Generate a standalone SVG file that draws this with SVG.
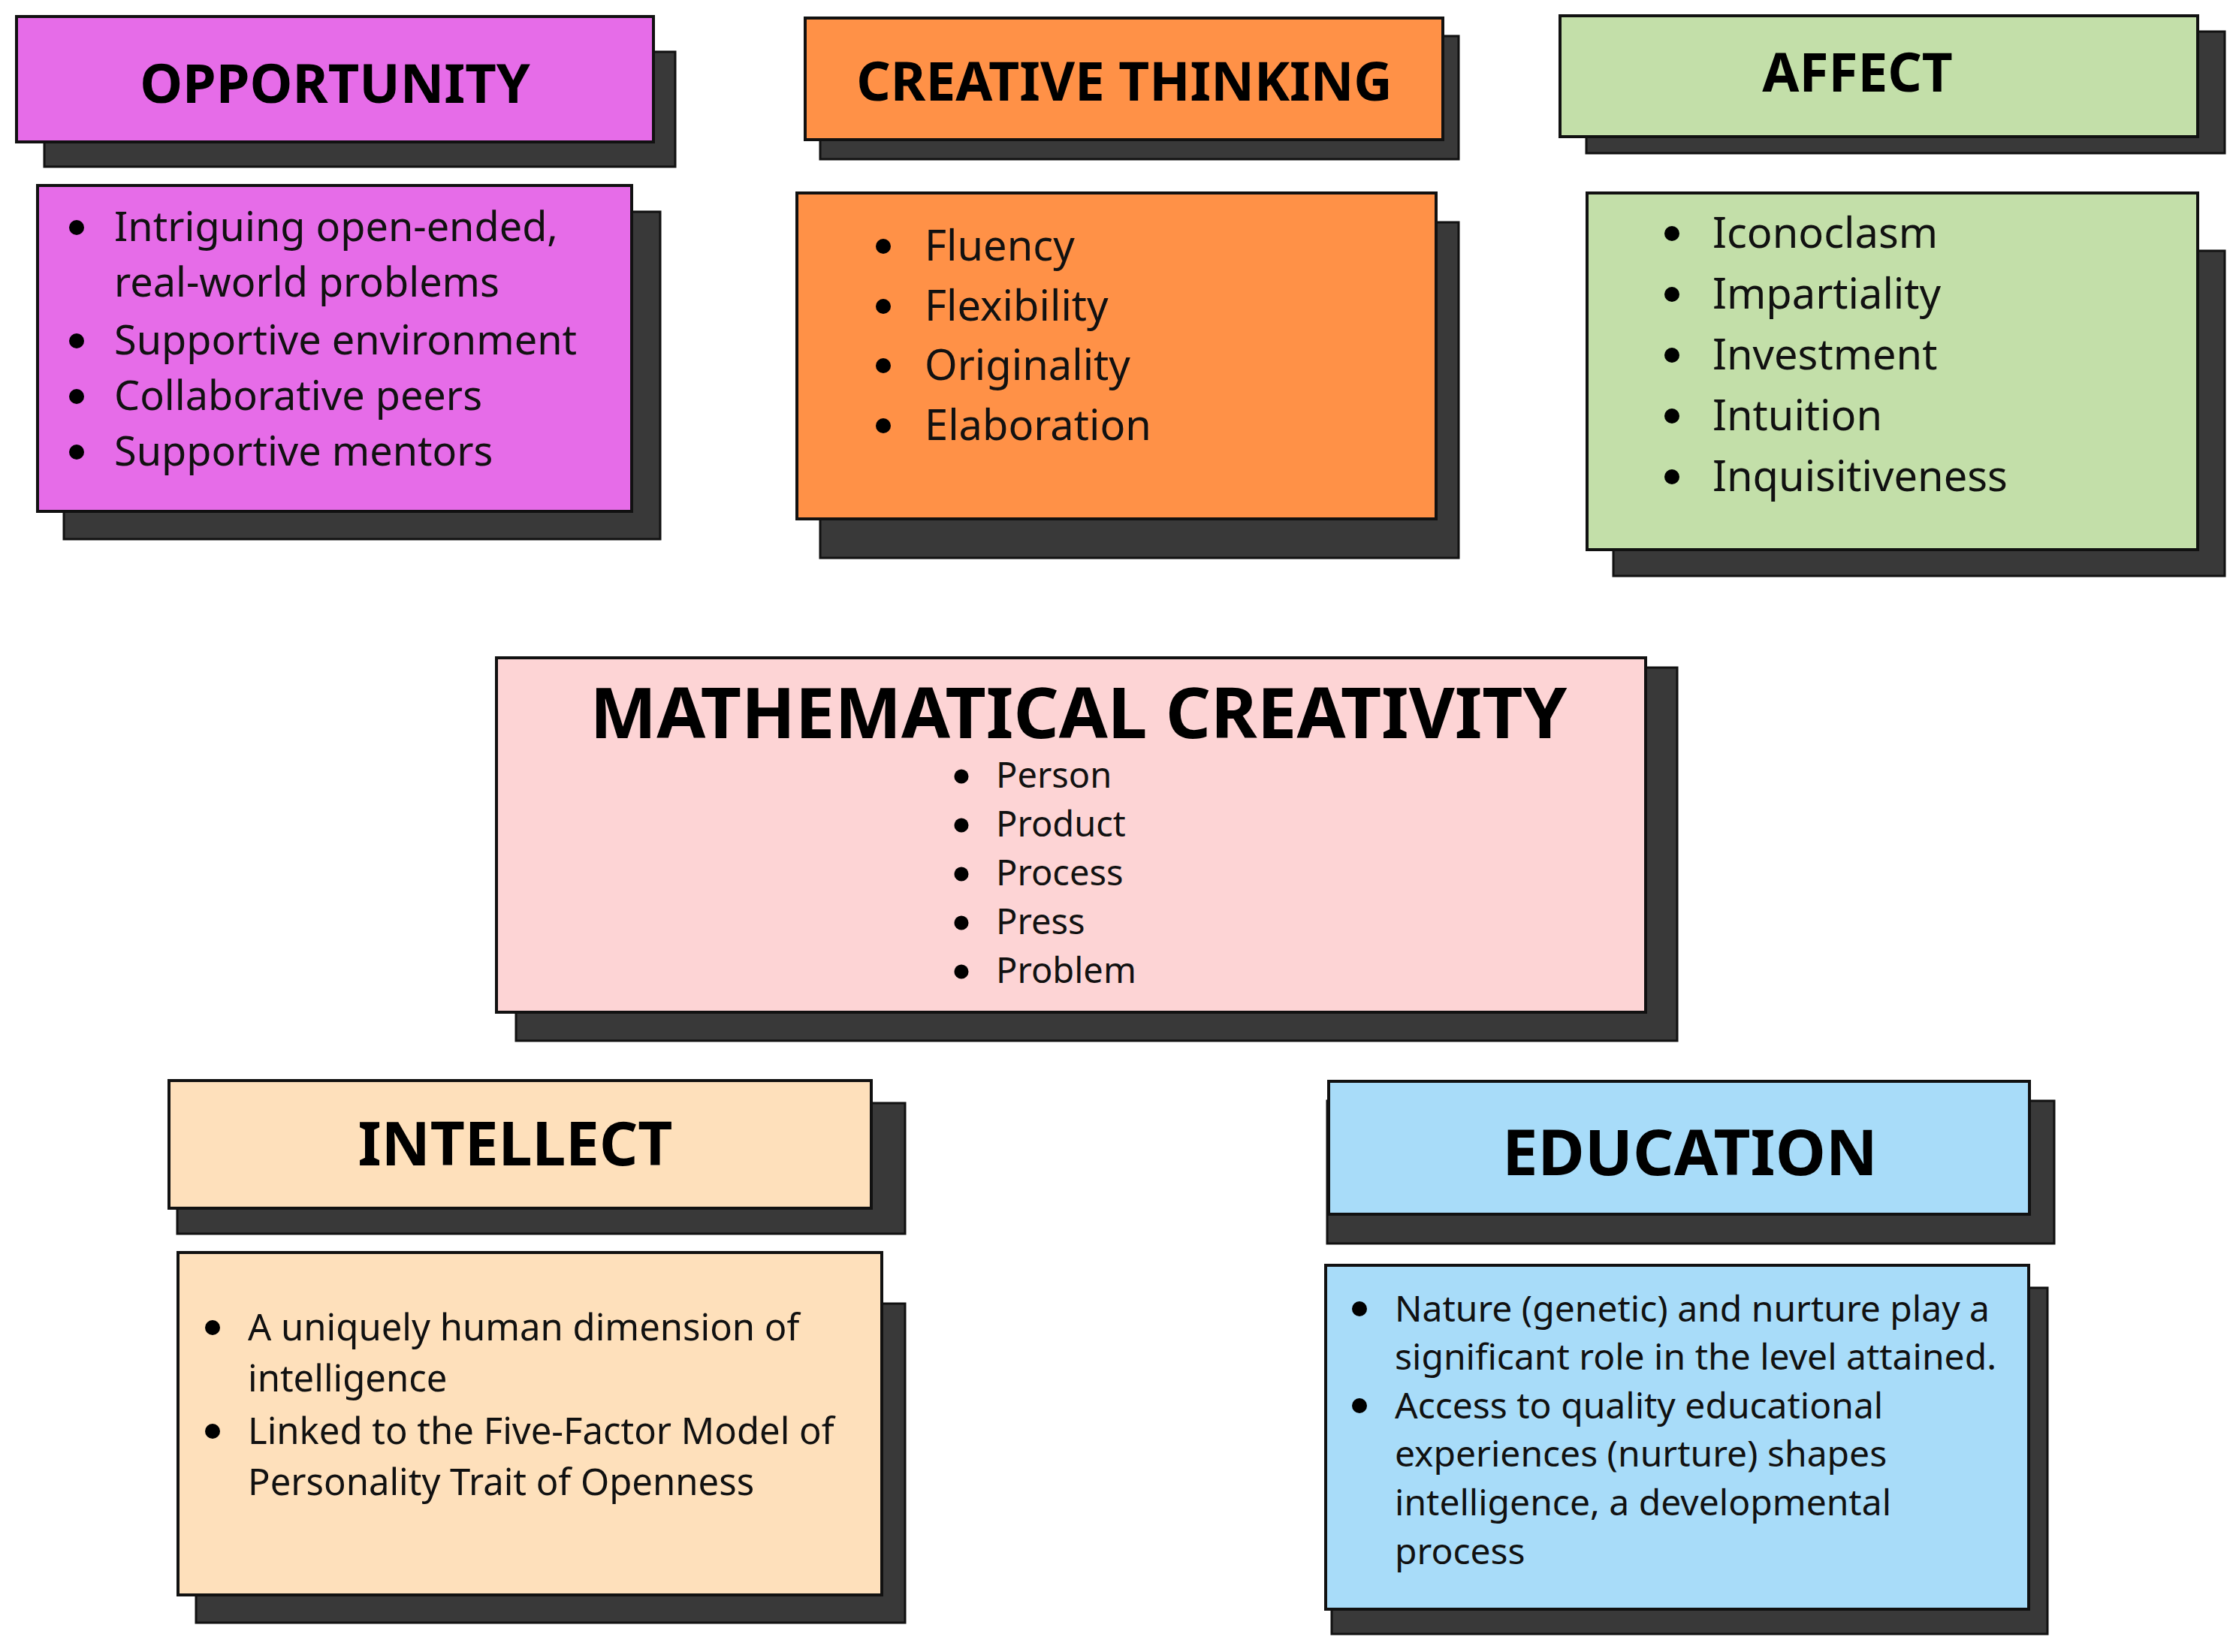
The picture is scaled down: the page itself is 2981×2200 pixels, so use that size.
<svg xmlns="http://www.w3.org/2000/svg" width="2981" height="2200" viewBox="0 0 2981 2200">
<style>
  .bg{fill:#ffffff}
  .shadow{fill:#393939;stroke:#111;stroke-width:3}
  .box{stroke:#111;stroke-width:4}
  .opp{fill:#E66CE8}
  .cre{fill:#FF9147}
  .aff{fill:#C3DFA9}
  .mat{fill:#FDD4D5}
  .int{fill:#FEE0BB}
  .edu{fill:#A8DCF9}
  .title{font-family:"Noto Sans","Open Sans","DejaVu Sans",sans-serif;font-weight:bold;fill:#000;text-anchor:middle}
  .item{font-family:"Noto Sans","Open Sans","DejaVu Sans",sans-serif;fill:#111}
  .dot{fill:#000}
</style>
<rect class="bg" x="0" y="0" width="2981" height="2200"/>
<g id="connectors"/>

<g id="opportunity-title">
  <rect class="shadow" x="59" y="69" width="840" height="153"/>
  <rect class="box opp" x="22" y="22" width="848" height="167"/>
  <text class="title" x="446" y="137" font-size="72">OPPORTUNITY</text>
</g>
<g id="opportunity-body">
  <rect class="shadow" x="85" y="282" width="794" height="436"/>
  <rect class="box opp" x="50" y="247" width="791" height="434"/>
  <g class="item" font-size="54">
    <text x="152" y="321">Intriguing open-ended,</text>
    <text x="152" y="395">real-world problems</text>
    <text x="152" y="472">Supportive environment</text>
    <text x="152" y="546">Collaborative peers</text>
    <text x="152" y="620">Supportive mentors</text>
  </g>
  <circle class="dot" cx="102" cy="303" r="10"/>
  <circle class="dot" cx="102" cy="454" r="10"/>
  <circle class="dot" cx="102" cy="528" r="10"/>
  <circle class="dot" cx="102" cy="602" r="10"/>
</g>

<g id="creative-title">
  <rect class="shadow" x="1092" y="48" width="850" height="164"/>
  <rect class="box cre" x="1072" y="24" width="849" height="162"/>
  <text class="title" x="1497" y="134" font-size="71">CREATIVE THINKING</text>
</g>
<g id="creative-body">
  <rect class="shadow" x="1092" y="296" width="850" height="447"/>
  <rect class="box cre" x="1061" y="257" width="851" height="434"/>
  <g class="item" font-size="56">
    <text x="1231" y="347">Fluency</text>
    <text x="1231" y="427">Flexibility</text>
    <text x="1231" y="506">Originality</text>
    <text x="1231" y="586">Elaboration</text>
  </g>
  <circle class="dot" cx="1176" cy="328" r="10"/>
  <circle class="dot" cx="1176" cy="408" r="10"/>
  <circle class="dot" cx="1176" cy="487" r="10"/>
  <circle class="dot" cx="1176" cy="567" r="10"/>
</g>

<g id="affect-title">
  <rect class="shadow" x="2112" y="42" width="850" height="162"/>
  <rect class="box aff" x="2077" y="21" width="849" height="161"/>
  <text class="title" x="2473" y="122" font-size="71">AFFECT</text>
</g>
<g id="affect-body">
  <rect class="shadow" x="2148" y="334" width="814" height="433"/>
  <rect class="box aff" x="2113" y="257" width="813" height="475"/>
  <g class="item" font-size="56">
    <text x="2280" y="330">Iconoclasm</text>
    <text x="2280" y="411">Impartiality</text>
    <text x="2280" y="492">Investment</text>
    <text x="2280" y="573">Intuition</text>
    <text x="2280" y="654">Inquisitiveness</text>
  </g>
  <circle class="dot" cx="2226" cy="311" r="10"/>
  <circle class="dot" cx="2226" cy="392" r="10"/>
  <circle class="dot" cx="2226" cy="473" r="10"/>
  <circle class="dot" cx="2226" cy="554" r="10"/>
  <circle class="dot" cx="2226" cy="635" r="10"/>
</g>

<g id="mathematical-creativity">
  <rect class="shadow" x="687" y="889" width="1546" height="497"/>
  <rect class="box mat" x="661" y="876" width="1530" height="472"/>
  <text class="title" x="1436" y="983" font-size="94">MATHEMATICAL CREATIVITY</text>
  <g class="item" font-size="47">
    <text x="1326" y="1049">Person</text>
    <text x="1326" y="1114">Product</text>
    <text x="1326" y="1179">Process</text>
    <text x="1326" y="1244">Press</text>
    <text x="1326" y="1309">Problem</text>
  </g>
  <circle class="dot" cx="1280" cy="1034" r="9.5"/>
  <circle class="dot" cx="1280" cy="1099" r="9.5"/>
  <circle class="dot" cx="1280" cy="1164" r="9.5"/>
  <circle class="dot" cx="1280" cy="1229" r="9.5"/>
  <circle class="dot" cx="1280" cy="1294" r="9.5"/>
</g>

<g id="intellect-title">
  <rect class="shadow" x="236" y="1469" width="969" height="174"/>
  <rect class="box int" x="225" y="1439" width="935" height="170"/>
  <text class="title" x="686" y="1552" font-size="80">INTELLECT</text>
</g>
<g id="intellect-body">
  <rect class="shadow" x="261" y="1736" width="944" height="425"/>
  <rect class="box int" x="237" y="1668" width="937" height="456"/>
  <g class="item" font-size="49">
    <text x="330" y="1785">A uniquely human dimension of</text>
    <text x="330" y="1853">intelligence</text>
    <text x="330" y="1923">Linked to the Five-Factor Model of</text>
    <text x="330" y="1991">Personality Trait of Openness</text>
  </g>
  <circle class="dot" cx="283" cy="1768" r="10"/>
  <circle class="dot" cx="283" cy="1906" r="10"/>
</g>

<g id="education-title">
  <rect class="shadow" x="1767" y="1466" width="968" height="190"/>
  <rect class="box edu" x="1769" y="1440" width="933" height="177"/>
  <text class="title" x="2250" y="1565" font-size="85">EDUCATION</text>
</g>
<g id="education-body">
  <rect class="shadow" x="1773" y="1715" width="953" height="461"/>
  <rect class="box edu" x="1765" y="1685" width="936" height="458"/>
  <g class="item" font-size="48">
    <text x="1857" y="1760">Nature (genetic) and nurture play a</text>
    <text x="1857" y="1824">significant role in the level attained.</text>
    <text x="1857" y="1889">Access to quality educational</text>
    <text x="1857" y="1953">experiences (nurture) shapes</text>
    <text x="1857" y="2018">intelligence, a developmental</text>
    <text x="1857" y="2083">process</text>
  </g>
  <circle class="dot" cx="1810" cy="1743" r="10"/>
  <circle class="dot" cx="1810" cy="1872" r="10"/>
</g>
</svg>
